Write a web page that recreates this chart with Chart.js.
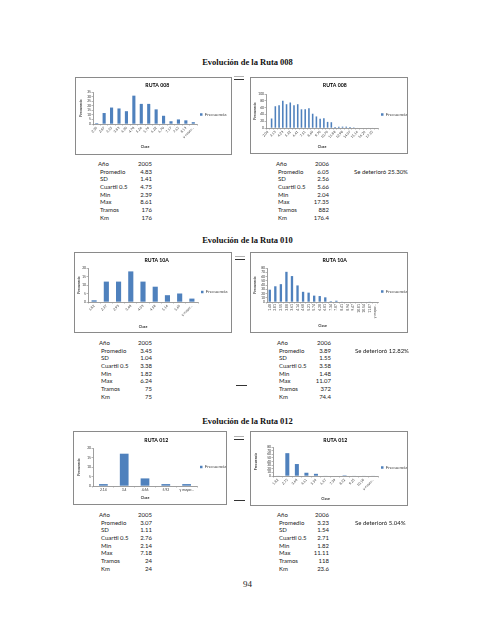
<!DOCTYPE html>
<html>
<head>
<meta charset="utf-8">
<script src="https://cdn.jsdelivr.net/npm/chart.js@4.4.1/dist/chart.umd.min.js"></script>
<style>
  body { margin: 0; background: #fff; width: 495px; height: 640px; position: relative; overflow: hidden; font-family: Lato, "Liberation Sans", sans-serif; color: #222; }
  .titulo { position: absolute; left: 0; width: 495px; text-align: center; font: bold 8.5px "Liberation Serif", serif; color: #111; }
  .caja { position: absolute; border: 1px solid #8a8a8a; background: #fff; }
  .caja canvas { display: block; }
  .tabla { position: absolute; font-size: 6px; line-height: 7.7px; }
  .fila { position: relative; height: 7.7px; white-space: nowrap; }
  .fila .v { position: absolute; right: 0; top: 0; }
  .fila.sub { padding-left: 2px; }
  .nota { position: absolute; font-size: 6px; line-height: 7.7px; white-space: nowrap; }
  .raya { position: absolute; height: 1px; }
  .pag { position: absolute; left: 0; width: 495px; text-align: center; font: 9px "Liberation Serif", serif; color: #222; }
</style>
</head>
<body>
<div id="root"></div>
<script>
// Ruta 008 - 2005
const clases008a = ['2.39', '2.87', '3.35', '3.83', '4.30', '4.78', '5.26', '5.74', '6.22', '6.70', '7.17', '7.65', '8.13', 'y mayor...'];
const frec008a = [1, 12, 18, 17, 14, 31, 22, 22, 16, 9, 3, 5, 4, 2];

// Ruta 008 - 2006
const clases008b = ['2.04', '2.59', '3.13', '3.68', '4.23', '4.77', '5.32', '5.87', '6.41', '6.96',
  '7.51', '8.05', '8.60', '9.15', '9.70', '10.24', '10.79', '11.34', '11.88', '12.43',
  '12.98', '13.52', '14.07', '14.62', '15.16', '15.71', '16.26', '16.80', '17.35', 'y mayor...'];
const frec008b = [1, 28, 64, 67, 80, 70, 75, 67, 70, 55, 55, 58, 42, 34, 27, 29, 18, 17, 3, 4,
  4, 4, 3, 2, 1, 1, 1, 1, 1, 0];

// Ruta 10A - 2005
const clases10a = ['1.82', '2.37', '2.93', '3.48', '4.03', '4.58', '5.14', '5.69', 'y mayor...'];
const frec10a = [1, 12, 12, 18, 12, 9, 4, 5, 2];

// Ruta 10A - 2006
const clases10b = ['1.48', '2.01', '2.55', '3.08', '3.61', '4.14', '4.68', '5.21', '5.74', '6.28',
  '6.81', '7.34', '7.87', '8.41', '8.94', '9.47', '10.01', '10.54', '11.07', 'y mayor...'];
const frec10b = [29, 37, 42, 71, 61, 39, 24, 22, 15, 14, 11, 2, 3, 1, 0, 0, 0, 0, 1, 0];

// Ruta 012 - 2005
const clases012a = ['2.14', '3.4', '4.66', '5.92', 'y mayor...'];
const frec012a = [1, 17, 4, 1, 1];

// Ruta 012 - 2006
const clases012b = ['1.82', '2.75', '3.68', '4.61', '5.54', '6.47', '7.39', '8.32', '9.25', '10.18', 'y mayor...'];
const frec012b = [1, 63, 33, 9, 6, 1, 0, 2, 1, 1, 1];

// tablas de resumen
const etiquetas = ['Año', 'Promedio', 'SD', 'Cuartil 0.5', 'Min', 'Max', 'Tramos', 'Km'];
const res008a = ['2005', '4.83', '1.41', '4.75', '2.39', '8.61', '176', '176'];
const res008b = ['2006', '6.05', '2.56', '5.66', '2.04', '17.35', '882', '176.4'];
const res10a = ['2005', '3.45', '1.04', '3.38', '1.82', '6.24', '75', '75'];
const res10b = ['2006', '3.89', '1.55', '3.58', '1.48', '11.07', '372', '74.4'];
const res012a = ['2005', '3.07', '1.11', '2.76', '2.14', '7.18', '24', '24'];
const res012b = ['2006', '3.23', '1.54', '2.71', '1.82', '11.11', '118', '23.6'];

function render() {
    const root = document.getElementById('root');
    root.innerHTML = `
    <div class="titulo" style="top:57px">Evolución de la Ruta 008</div>
    <div class="titulo" style="top:235px">Evolución de la Ruta 010</div>
    <div class="titulo" style="top:416px">Evolución de la Ruta 012</div>

    <div class="caja" style="left:75px;top:77px"><canvas id="c1" width="155" height="76"></canvas></div>
    <div class="caja" style="left:250px;top:77px"><canvas id="c2" width="156" height="75"></canvas></div>
    <div class="caja" style="left:74px;top:252px"><canvas id="c3" width="156" height="79"></canvas></div>
    <div class="caja" style="left:250px;top:252px"><canvas id="c4" width="156" height="79"></canvas></div>
    <div class="caja" style="left:73px;top:431px"><canvas id="c5" width="152" height="72"></canvas></div>
    <div class="caja" style="left:250px;top:431px"><canvas id="c6" width="156" height="73"></canvas></div>

    <div class="raya" style="left:234px;top:76px;width:10px;background:#b0b0b0"></div>
    <div class="raya" style="left:234px;top:79px;width:10px;background:#333"></div>
    <div class="raya" style="left:235px;top:256px;width:10px;background:#b0b0b0"></div>
    <div class="raya" style="left:235px;top:259px;width:10px;background:#333"></div>
    <div class="raya" style="left:234px;top:436px;width:10px;background:#b0b0b0"></div>
    <div class="raya" style="left:234px;top:439px;width:10px;background:#333"></div>
    <div class="raya" style="left:236px;top:385px;width:11px;background:#333"></div>
    <div class="raya" style="left:234px;top:500px;width:11px;background:#333"></div>

    ${tabla(98, 160, 54, res008a)}
    ${tabla(276, 160, 53, res008b)}
    ${tabla(99, 339, 53, res10a)}
    ${tabla(277, 339, 54, res10b)}
    ${tabla(99, 511, 53, res012a)}
    ${tabla(277, 511, 52, res012b)}

    <div class="nota" style="left:354px;top:168px">Se deterioró 25.30%</div>
    <div class="nota" style="left:355px;top:347px">Se deterioró 12.82%</div>
    <div class="nota" style="left:355px;top:519px">Se deterioró 5.04%</div>

    <div class="pag" style="top:579px">94</div>
    `;

    // area: rectangulo del grafico dentro del canvas (izq, der, arriba, abajo) y centro del titulo
    histograma('c1', 'RUTA 008', clases008a, frec008a, 35, 5, 45,
        { l: 17, r: 121, t: 14, b: 46, tt: 7, yw: 15, xh: 27 });
    histograma('c2', 'RUTA 008', clases008b, frec008b, 100, 20, 45,
        { l: 15, r: 127, t: 16, b: 50, tt: 7, yw: 14, xh: 23 });
    histograma('c3', 'RUTA 10A', clases10a, frec10a, 20, 5, 45,
        { l: 13, r: 123, t: 15, b: 49, tt: 7, yw: 12, xh: 29 });
    histograma('c4', 'RUTA 10A', clases10b, frec10b, 80, 10, 90,
        { l: 16, r: 127, t: 15, b: 49, tt: 7, yw: 15, xh: 28 });
    histograma('c5', 'RUTA 012', clases012a, frec012a, 20, 5, 0,
        { l: 19, r: 123, t: 16, b: 54, tt: 8, yw: 17, xh: 16 });
    histograma('c6', 'RUTA 012', clases012b, frec012b, 80, 10, 45,
        { l: 22, r: 127, t: 15, b: 44, tt: 8, yw: 20, xh: 27 });
}

function tabla(x, y, ancho, valores) {
    let html = `<div class="tabla" style="left:${x}px;top:${y}px;width:${ancho}px">`;
    etiquetas.forEach((et, i) => {
        html += `<div class="fila${i > 0 ? ' sub' : ''}"><span>${et}</span><span class="v">${valores[i]}</span></div>`;
    });
    return html + '</div>';
}

function histograma(id, titulo, clases, frecuencias, yMax, paso, rot, area) {
    const fuente = 'Lato, "Liberation Sans", sans-serif';
    const rejilla = { display: true, drawOnChartArea: false, drawTicks: true, tickLength: 1.5, color: '#868686', lineWidth: 0.6 };
    // con muchas clases Excel solo rotula una de cada dos
    const alternas = clases.length > 25;
    const chart = new Chart(document.getElementById(id), {
        type: 'bar',
        data: {
            labels: clases,
            datasets: [{
                label: 'Frecuencia',
                data: frecuencias,
                backgroundColor: '#4f81bd',
                categoryPercentage: 1,
                barPercentage: 0.42
            }]
        },
        options: {
            responsive: false,
            animation: false,
            devicePixelRatio: 1,
            layout: { padding: { left: 1, right: 1, top: 0, bottom: 1 } },
            plugins: {
                title: {
                    display: true,
                    text: titulo,
                    color: '#000',
                    font: { family: fuente, size: 5.2, weight: 'bold' },
                    padding: { top: area.tt - 3.1, bottom: 3 }
                },
                legend: {
                    position: 'right',
                    labels: {
                        boxWidth: 2.5,
                        boxHeight: 2.5,
                        padding: 3,
                        color: '#404040',
                        font: { family: fuente, size: 4.6 }
                    }
                },
                tooltip: { enabled: false }
            },
            scales: {
                x: {
                    grid: { ...rejilla, offset: true },
                    border: { color: '#868686', width: 0.8 },
                    ticks: {
                        color: '#333',
                        font: { family: fuente, size: 3.4 },
                        minRotation: rot,
                        maxRotation: rot,
                        autoSkip: false,
                        padding: 0.5,
                        callback: (v, i) => (alternas && i % 2) ? '' : clases[i]
                    },
                    title: {
                        display: true,
                        text: 'Clase',
                        color: '#333',
                        font: { family: fuente, size: 3.6, weight: 'bold' },
                        padding: { top: 0, bottom: 2 }
                    },
                    afterFit: s => { s.height = area.xh; }
                },
                y: {
                    min: 0,
                    max: yMax,
                    grid: rejilla,
                    border: { color: '#868686', width: 0.8 },
                    ticks: {
                        stepSize: paso,
                        autoSkip: false,
                        color: '#333',
                        font: { family: fuente, size: 3.3 },
                        padding: 0.5
                    },
                    title: {
                        display: true,
                        text: 'Frecuencia',
                        color: '#333',
                        font: { family: fuente, size: 3.6, weight: 'bold' },
                        padding: 1
                    },
                    afterFit: s => { s.width = area.yw; }
                }
            }
        }
    });

    // acomodar el area de trazado a la posicion del original
    for (let i = 0; i < 4; i++) {
        const a = chart.chartArea;
        const op = chart.config.options;
        op.layout.padding.left += area.l - a.left;
        op.layout.padding.right += a.right - area.r;
        op.layout.padding.bottom += a.bottom - area.b;
        op.plugins.title.padding.bottom += area.t - a.top;
        chart.update();
    }
    return chart;
}

render();
</script>
</body>
</html>
